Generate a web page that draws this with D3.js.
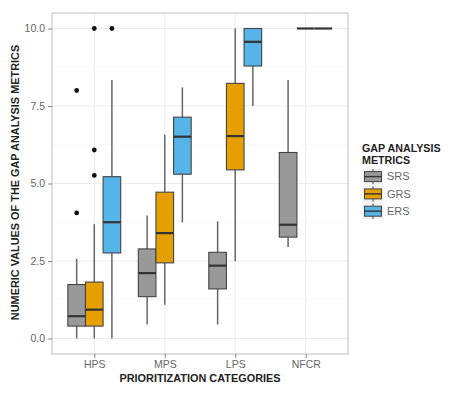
<!DOCTYPE html>
<html>
<head>
<meta charset="utf-8">
<script src="https://cdn.jsdelivr.net/npm/d3@7"></script>
<style>
  body { margin: 0; background: #fff; }
  text { font-family: "Liberation Sans", Arial, sans-serif; }
</style>
</head>
<body>
<svg id="chart" width="467" height="394"></svg>
<script>
// categories and metrics
var categories = ["HPS", "MPS", "LPS", "NFCR"];
var metrics = ["SRS", "GRS", "ERS"];
var colors = ["#999999", "#E69F00", "#56B4E9"];

// box stats per category: [lower whisker, q1, median, q3, upper whisker]
var srsStats = [[0.0, 0.40, 0.72, 1.74, 2.57], [0.45, 1.35, 2.11, 2.89, 3.97], [0.45, 1.60, 2.35, 2.78, 3.78], [2.95, 3.27, 3.67, 6.00, 8.34]];
var grsStats = [[0.0, 0.40, 0.93, 1.82, 3.69], [1.09, 2.44, 3.40, 4.72, 6.57], [2.49, 5.44, 6.53, 8.23, 10.0], [10.0, 10.0, 10.0, 10.0, 10.0]];
var ersStats = [[0.0, 2.76, 3.75, 5.22, 8.34], [3.75, 5.30, 6.51, 7.14, 8.10], [7.50, 8.79, 9.57, 10.0, 10.0], [10.0, 10.0, 10.0, 10.0, 10.0]];

// outliers per category
var srsOut = [[8.0, 4.05], [], [], []];
var grsOut = [[10.0, 6.08, 5.26], [], [], []];
var ersOut = [[10.0], [], [], []];

var yTicks = [0, 2.5, 5, 7.5, 10];

var stats = [srsStats, grsStats, ersStats];
var outs = [srsOut, grsOut, ersOut];

var svg = d3.select("#chart");
var margin = {left: 52, top: 13, right: 119, bottom: 40};
var W = 467 - margin.left - margin.right;
var H = 394 - margin.top - margin.bottom;

var g = svg.append("g").attr("transform", "translate(" + margin.left + "," + margin.top + ")");

var x = d3.scalePoint().domain(categories).range([0, W]).padding(0.6);
var step = x.step();
var y = d3.scaleLinear().domain([-0.5, 10.5]).range([H, 0]);

// grid
var minor = [1.25, 3.75, 6.25, 8.75];
g.selectAll(".minor").data(minor).enter().append("line")
  .attr("x1", 0).attr("x2", W)
  .attr("y1", d => y(d)).attr("y2", d => y(d))
  .attr("stroke", "#f5f5f5").attr("stroke-width", 0.6);
g.selectAll(".major").data(yTicks).enter().append("line")
  .attr("x1", 0).attr("x2", W)
  .attr("y1", d => y(d)).attr("y2", d => y(d))
  .attr("stroke", "#ececec").attr("stroke-width", 1);
g.selectAll(".vgrid").data(categories).enter().append("line")
  .attr("x1", d => x(d)).attr("x2", d => x(d))
  .attr("y1", 0).attr("y2", H)
  .attr("stroke", "#ececec").attr("stroke-width", 1);

var boxW = step * 0.25;

metrics.forEach(function(m, mi) {
  categories.forEach(function(c, ci) {
    var s = stats[mi][ci];
    var cx = x(c) + (mi - 1) * boxW;
    var bg = g.append("g");
    // whiskers
    bg.append("line").attr("x1", cx).attr("x2", cx)
      .attr("y1", y(s[3])).attr("y2", y(s[4]))
      .attr("stroke", "#666").attr("stroke-width", 1.5);
    bg.append("line").attr("x1", cx).attr("x2", cx)
      .attr("y1", y(s[0])).attr("y2", y(s[1]))
      .attr("stroke", "#666").attr("stroke-width", 1.5);
    bg.append("rect")
      .attr("x", cx - boxW / 2).attr("width", boxW)
      .attr("y", y(s[3])).attr("height", Math.max(0, y(s[1]) - y(s[3])))
      .attr("fill", colors[mi]).attr("stroke", "#444").attr("stroke-width", 1.1);
    bg.append("line").attr("x1", cx - boxW / 2).attr("x2", cx + boxW / 2)
      .attr("y1", y(s[2])).attr("y2", y(s[2]))
      .attr("stroke", "#333").attr("stroke-width", 2.2);
    outs[mi][ci].forEach(function(v) {
      bg.append("circle").attr("cx", cx).attr("cy", y(v)).attr("r", 2.4).attr("fill", "#111");
    });
  });
});

// panel border
g.append("rect").attr("x", 0).attr("y", 0).attr("width", W).attr("height", H)
  .attr("fill", "none").attr("stroke", "#c8c8c8").attr("stroke-width", 1.2);

// axes
var yAxis = g.append("g").call(d3.axisLeft(y).tickValues(yTicks).tickFormat(d3.format(".1f")).tickSize(4).tickPadding(3));
var xAxis = g.append("g").attr("transform", "translate(0," + H + ")")
  .call(d3.axisBottom(x).tickSize(4).tickPadding(3));
[yAxis, xAxis].forEach(function(a) {
  a.select(".domain").remove();
  a.selectAll(".tick line").attr("stroke", "#888");
  a.selectAll(".tick text").attr("fill", "#666").style("font-size", "10.5px")
    .style("font-family", "'Liberation Sans', Arial, sans-serif");
});

// titles
svg.append("text")
  .attr("transform", "translate(15,182.5) rotate(-90)")
  .attr("text-anchor", "middle").attr("dy", "0.35em")
  .style("font-size", "10.9px").style("font-weight", "bold").attr("fill", "#222")
  .text("NUMERIC VALUES OF THE GAP ANALYSIS METRICS");
svg.append("text")
  .attr("x", 200).attr("y", 382)
  .attr("text-anchor", "middle")
  .style("font-size", "10.9px").style("font-weight", "bold").attr("fill", "#222")
  .text("PRIORITIZATION CATEGORIES");

// legend
var lg = svg.append("g").attr("transform", "translate(362,140)");
lg.append("text").attr("x", 0).attr("y", 12).style("font-size", "10.7px").style("font-weight", "bold").attr("fill", "#222").text("GAP ANALYSIS");
lg.append("text").attr("x", 0).attr("y", 24).style("font-size", "10.7px").style("font-weight", "bold").attr("fill", "#222").text("METRICS");
metrics.forEach(function(m, i) {
  var ky = 28 + i * 17.3;
  var k = lg.append("g").attr("transform", "translate(0," + ky + ")");
  k.append("rect").attr("width", 22).attr("height", 17.3).attr("fill", "#f2f2f2").attr("stroke", "#fff");
  k.append("line").attr("x1", 11).attr("x2", 11).attr("y1", 1).attr("y2", 16.3).attr("stroke", "#666").attr("stroke-width", 1.2);
  k.append("rect").attr("x", 2.5).attr("y", 3.6).attr("width", 17).attr("height", 10)
    .attr("fill", colors[i]).attr("stroke", "#444").attr("stroke-width", 1);
  k.append("line").attr("x1", 2.5).attr("x2", 19.5).attr("y1", 8.6).attr("y2", 8.6).attr("stroke", "#333").attr("stroke-width", 1.4);
  k.append("text").attr("x", 25).attr("y", 8.6).attr("dy", "0.35em").style("font-size", "11px").attr("fill", "#666").text(m);
});
</script>
</body>
</html>
